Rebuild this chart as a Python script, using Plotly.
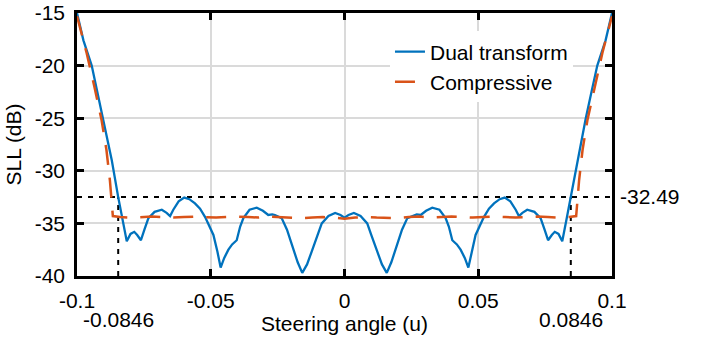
import plotly.graph_objects as go

# ---------------- data ----------------
series_names = ["Dual transform", "Compressive"]

u_dual = [-0.1000, -0.0976, -0.0945, -0.0920, -0.0902, -0.0885, -0.0870, -0.0846, -0.0830, -0.0814,
          -0.0800, -0.0786, -0.0775, -0.0761, -0.0748, -0.0733, -0.0710, -0.0683, -0.0665, -0.0652,
          -0.0640, -0.0620, -0.0599, -0.0580, -0.0559, -0.0540, -0.0521, -0.0490, -0.0475, -0.0463,
          -0.0450, -0.0434, -0.0420, -0.0403, -0.0390, -0.0378, -0.0355, -0.0328, -0.0305, -0.0285,
          -0.0270, -0.0260, -0.0235, -0.0215, -0.0197, -0.0175, -0.0158, -0.0140, -0.0123, -0.0100,
          -0.0085, -0.0060, -0.0035, -0.0015, 0.0000,
          0.0015, 0.0035, 0.0060, 0.0085, 0.0100, 0.0123, 0.0140, 0.0158, 0.0175, 0.0197,
          0.0215, 0.0235, 0.0260, 0.0270, 0.0285, 0.0305, 0.0328, 0.0355, 0.0378, 0.0390,
          0.0403, 0.0420, 0.0434, 0.0450, 0.0463, 0.0475, 0.0490, 0.0521, 0.0540, 0.0559,
          0.0580, 0.0599, 0.0620, 0.0640, 0.0652, 0.0665, 0.0683, 0.0710, 0.0733, 0.0748,
          0.0761, 0.0775, 0.0786, 0.0800, 0.0814, 0.0830, 0.0846, 0.0870, 0.0885, 0.0902,
          0.0920, 0.0945, 0.0976, 0.1000]
sll_dual = [-15.0, -17.6, -20.0, -22.9, -25.0, -27.0, -29.0, -32.5, -34.6, -36.7,
            -36.0, -35.8, -36.1, -36.6, -35.6, -34.5, -33.9, -33.7, -34.0, -34.3,
            -33.7, -32.9, -32.55, -32.7, -33.1, -33.6, -34.4, -36.1, -37.7, -39.2,
            -38.3, -37.5, -37.0, -36.6, -35.3, -34.5, -33.7, -33.5, -33.8, -34.2,
            -34.15, -34.2, -34.5, -35.6, -37.0, -38.7, -39.7, -38.9, -37.7, -36.1,
            -35.0, -34.3, -34.0, -34.2, -34.45,
            -34.2, -34.0, -34.3, -35.0, -36.1, -37.7, -38.9, -39.7, -38.7, -37.0,
            -35.6, -34.5, -34.2, -34.15, -34.2, -33.8, -33.5, -33.7, -34.5, -35.3,
            -36.6, -37.0, -37.5, -38.3, -39.2, -37.7, -36.1, -34.4, -33.6, -33.1,
            -32.7, -32.55, -32.9, -33.7, -34.3, -34.0, -33.7, -33.9, -34.5, -35.6,
            -36.6, -36.1, -35.8, -36.0, -36.7, -34.6, -32.5, -29.0, -27.0, -25.0,
            -22.9, -20.0, -17.6, -15.0]

u_comp = [-0.1000, -0.0964, -0.0935, -0.0908, -0.0890, -0.0877, -0.0866, -0.0840, -0.0800, -0.0760,
          -0.0720, -0.0680, -0.0640, -0.0600, -0.0560, -0.0520, -0.0480, -0.0440, -0.0400, -0.0360,
          -0.0320, -0.0280, -0.0240, -0.0200, -0.0160, -0.0120, -0.0080, -0.0040, 0.0000,
          0.0040, 0.0080, 0.0120, 0.0160, 0.0200, 0.0240, 0.0280, 0.0320, 0.0360, 0.0400,
          0.0440, 0.0480, 0.0520, 0.0560, 0.0600, 0.0640, 0.0680, 0.0720, 0.0760, 0.0800,
          0.0840, 0.0866, 0.0877, 0.0890, 0.0908, 0.0935, 0.0964, 0.1000]
sll_comp = [-15.3, -18.8, -22.0, -25.2, -28.0, -30.9, -34.3, -34.4, -34.45, -34.4,
            -34.35, -34.4, -34.45, -34.4, -34.35, -34.4, -34.45, -34.4, -34.35, -34.4,
            -34.45, -34.35, -34.4, -34.5, -34.5, -34.45, -34.4, -34.45, -34.55,
            -34.45, -34.4, -34.45, -34.5, -34.5, -34.4, -34.35, -34.45, -34.4, -34.35,
            -34.4, -34.45, -34.4, -34.35, -34.4, -34.45, -34.4, -34.35, -34.4, -34.45,
            -34.4, -34.3, -30.9, -28.0, -25.2, -22.0, -18.8, -15.3]

sll_max = -32.49            # peak sidelobe level marked
u_edge = [-0.0846, 0.0846]  # main-lobe edge markers

x_ticks = [-0.1, -0.05, 0, 0.05, 0.1]
x_tick_text = ["-0.1", "-0.05", "0", "0.05", "0.1"]
y_ticks = [-40, -35, -30, -25, -20, -15]
y_tick_text = ["-40", "-35", "-30", "-25", "-20", "-15"]
x_range = [-0.1, 0.1]
y_range = [-40, -15]

# ---------------- figure ----------------
BLUE = "#0072BD"
RED = "#D95319"
INK = "#000000"
FONT = "Liberation Sans, Arial, sans-serif"
FS = 21

fig = go.Figure()

# reference dotted lines
fig.add_trace(go.Scatter(x=[x_range[0], x_range[1]], y=[sll_max, sll_max], mode="lines",
                         line=dict(color=INK, width=2, dash="5px,6px"),
                         showlegend=False, hoverinfo="skip"))
for ue in u_edge:
    fig.add_trace(go.Scatter(x=[ue, ue], y=[y_range[0], sll_max], mode="lines",
                             line=dict(color=INK, width=2, dash="5px,6px"),
                             showlegend=False, hoverinfo="skip"))

fig.add_trace(go.Scatter(x=u_dual, y=sll_dual, mode="lines", name=series_names[0],
                         line=dict(color=BLUE, width=2.3)))
fig.add_trace(go.Scatter(x=u_comp, y=sll_comp, mode="lines", name=series_names[1],
                         line=dict(color=RED, width=2.5, dash="20px,13px")))

axis_common = dict(showline=True, linecolor=INK, linewidth=2.5, mirror="ticks",
                   ticks="inside", ticklen=7, tickwidth=2.5, tickcolor=INK,
                   showgrid=True, gridcolor="#dadada", gridwidth=1.5, zeroline=False,
                   automargin=False, ticklabeloverflow="allow", layer="above traces",
                   tickfont=dict(family=FONT, size=FS, color=INK))

fig.update_xaxes(range=x_range, tickvals=x_ticks, ticktext=x_tick_text,
                 title=dict(text="Steering angle (u)", font=dict(family=FONT, size=FS, color=INK),
                            standoff=2),
                 ticklabelstandoff=4, **axis_common)
fig.update_yaxes(range=y_range, tickvals=y_ticks, ticktext=y_tick_text,
                 title=dict(text="SLL (dB)", font=dict(family=FONT, size=FS, color=INK),
                            standoff=8),
                 ticklabelstandoff=5, **axis_common)

# edge / level labels
for ue in u_edge:
    fig.add_annotation(x=ue, xref="x", y=-0.165, yref="paper", text=f"{ue:g}",
                       showarrow=False, xanchor="center", yanchor="middle",
                       font=dict(family=FONT, size=FS, color=INK))
fig.add_annotation(x=1.012, xref="paper", y=sll_max, yref="y", text=f"{sll_max:g}",
                   showarrow=False, xanchor="left", yanchor="middle",
                   font=dict(family=FONT, size=FS, color=INK))

fig.update_layout(
    template="none",
    width=706, height=339,
    margin=dict(l=77, r=94, t=13, b=63, autoexpand=False),
    paper_bgcolor="white", plot_bgcolor="white",
    font=dict(family=FONT, size=FS, color=INK),
    legend=dict(x=0.585, y=0.93, xanchor="left", yanchor="top",
                bgcolor="white", borderwidth=0, font=dict(family=FONT, size=FS, color=INK),
                tracegroupgap=0),
)

# remove the default page margin so the 706x339 figure fills the window exactly
fig.write_html("out.html", config={"displayModeBar": False},
               post_script="document.body.style.margin='0px';")
